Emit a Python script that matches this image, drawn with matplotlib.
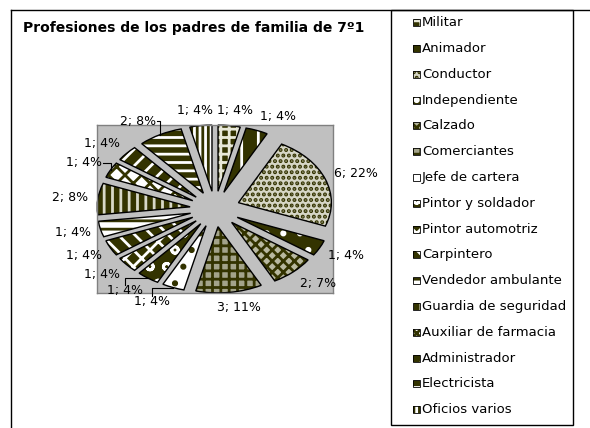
import matplotlib
matplotlib.use("Agg")
import matplotlib.pyplot as plt
from matplotlib.patches import Rectangle
from matplotlib.lines import Line2D
import numpy as np

# ---------------- data ----------------
categories = ["Militar", "Animador", "Conductor", "Independiente", "Calzado",
              "Comerciantes", "Jefe de cartera", "Pintor y soldador",
              "Pintor automotriz", "Carpintero", "Vendedor ambulante",
              "Guardia de seguridad", "Auxiliar de farmacia", "Administrador",
              "Electricista", "Oficios varios"]
counts = [1, 1, 6, 1, 2, 3, 1, 1, 1, 1, 1, 2, 1, 1, 2, 1]
percent_labels = [4, 4, 22, 4, 7, 11, 4, 4, 4, 4, 4, 8, 4, 4, 8, 4]
title = "Profesiones de los padres de familia de 7º1"

# ---------------- style ----------------
OL = "#333300"
WH = "#ffffff"
patterns = [  # (face, hatch colour, hatch)
    (OL, "#e8e8d8", "++"),
    (OL, WH, "|"),
    ("#d6d6c6", OL, "..."),
    (OL, WH, "."),
    ("#b8b8a0", OL, "xxx"),
    ("#a3a38a", OL, "++"),
    (WH, OL, "."),
    (OL, WH, "o"),
    (OL, WH, "xx"),
    (OL, WH, "\\\\"),
    (WH, OL, "--"),
    (OL, "#d8d8c8", "||"),
    (WH, OL, "xx"),
    (OL, WH, "//"),
    (OL, WH, "--"),
    (WH, OL, "|||"),
]
leader_style = [None, None, None, None, None, None, "top", "top", None, None,
                None, None, "side", None, "side", None]

plt.rcParams["hatch.linewidth"] = 2.0
plt.rcParams["font.family"] = ["DejaVu Sans"]

W, H = 590, 428
def fx(x): return x / W
def fy(y): return 1 - y / H

fig = plt.figure(figsize=(W / 100, H / 100), dpi=100)

# outer chart border (extends beyond the image right/bottom)
fig.add_artist(Line2D([fx(11), fx(11)], [fy(10), fy(440)], color="black", lw=1.0))
fig.add_artist(Line2D([fx(11), fx(600)], [fy(10), fy(10)], color="black", lw=1.0))

# title
fig.text(fx(23), fy(28), title, fontweight="bold", fontsize=10, va="center", ha="left")

# plot area
ax = fig.add_axes([fx(97), fy(293), 236 / W, 168 / H])
E = 0.27
explode = [E] * len(counts)
wedges, _ = ax.pie(counts, explode=explode, startangle=90, counterclock=False,
                   radius=1, wedgeprops=dict(linewidth=0))
for w, (fc, hc, h) in zip(wedges, patterns):
    w.set_facecolor(fc)
    w.set_edgecolor(hc)
    w.set_linewidth(0)
    w.set_hatch(h)
ax.pie(counts, explode=explode, startangle=90, counterclock=False, radius=1,
       wedgeprops=dict(fill=False, edgecolor="black", linewidth=1.0))
ax.set_aspect("auto")
ax.set_xlim(-(1 + E), 1 + E)
ax.set_ylim(-(1 + E), 1 + E)
ax.set_frame_on(True)
ax.set_facecolor("#c0c0c0")
ax.set_xticks([])
ax.set_yticks([])
for sp in ax.spines.values():
    sp.set_color("#808080")
    sp.set_linewidth(1.0)

# data labels
tot = sum(counts)
cum = np.cumsum(counts)
mids = np.radians((cum - np.array(counts) / 2) / tot * 360)
texts = []
for i in range(len(counts)):
    s, c = np.sin(mids[i]), np.cos(mids[i])
    y = 1.18 * (1 + E) * c
    if abs(s) < 0.3:
        x = 0.02 * np.sign(s)
    else:
        x = 1.08 * (1 + E) * s
    ha = "left" if s > 0 else "right"
    t = ax.text(x, y, f"{counts[i]}; {percent_labels[i]}%", ha=ha, va="center",
                fontsize=9, clip_on=False)
    texts.append(t)

fig.canvas.draw()
inv = fig.transFigure.inverted()
for i, st in enumerate(leader_style):
    if st is None:
        continue
    s, c = np.sin(mids[i]), np.cos(mids[i])
    wx, wy = ax.transData.transform(((1 + E) * s, (1 + E) * c))
    bb = texts[i].get_window_extent()
    if st == "side":
        pts = [(bb.x1 + 1, (bb.y0 + bb.y1) / 2), (wx, (bb.y0 + bb.y1) / 2), (wx, wy)]
    else:
        cx = (bb.x0 + bb.x1) / 2
        pts = [(cx, bb.y1 - 1), (cx, wy), (wx, wy)]
    fpts = inv.transform(pts)
    fig.add_artist(Line2D(fpts[:, 0], fpts[:, 1], color="black", lw=0.8))

# legend
fig.add_artist(Rectangle((fx(391), fy(425)), (573 - 391) / W, (425 - 10) / H,
                         fill=False, edgecolor="black", lw=1.0))
for i, name in enumerate(categories):
    yc = 22.7 + i * 25.8
    fc, hc, h = patterns[i]
    r = Rectangle((fx(413), fy(yc + 3.5)), 7 / W, 7 / H, facecolor=fc,
                  edgecolor=hc, hatch=h, lw=0)
    fig.add_artist(r)
    fig.add_artist(Rectangle((fx(413), fy(yc + 3.5)), 7 / W, 7 / H, fill=False,
                             edgecolor="black", lw=0.6))
    fig.text(fx(422), fy(yc), name, fontsize=9.5, va="center", ha="left")

fig.savefig("out.png", dpi=100)
